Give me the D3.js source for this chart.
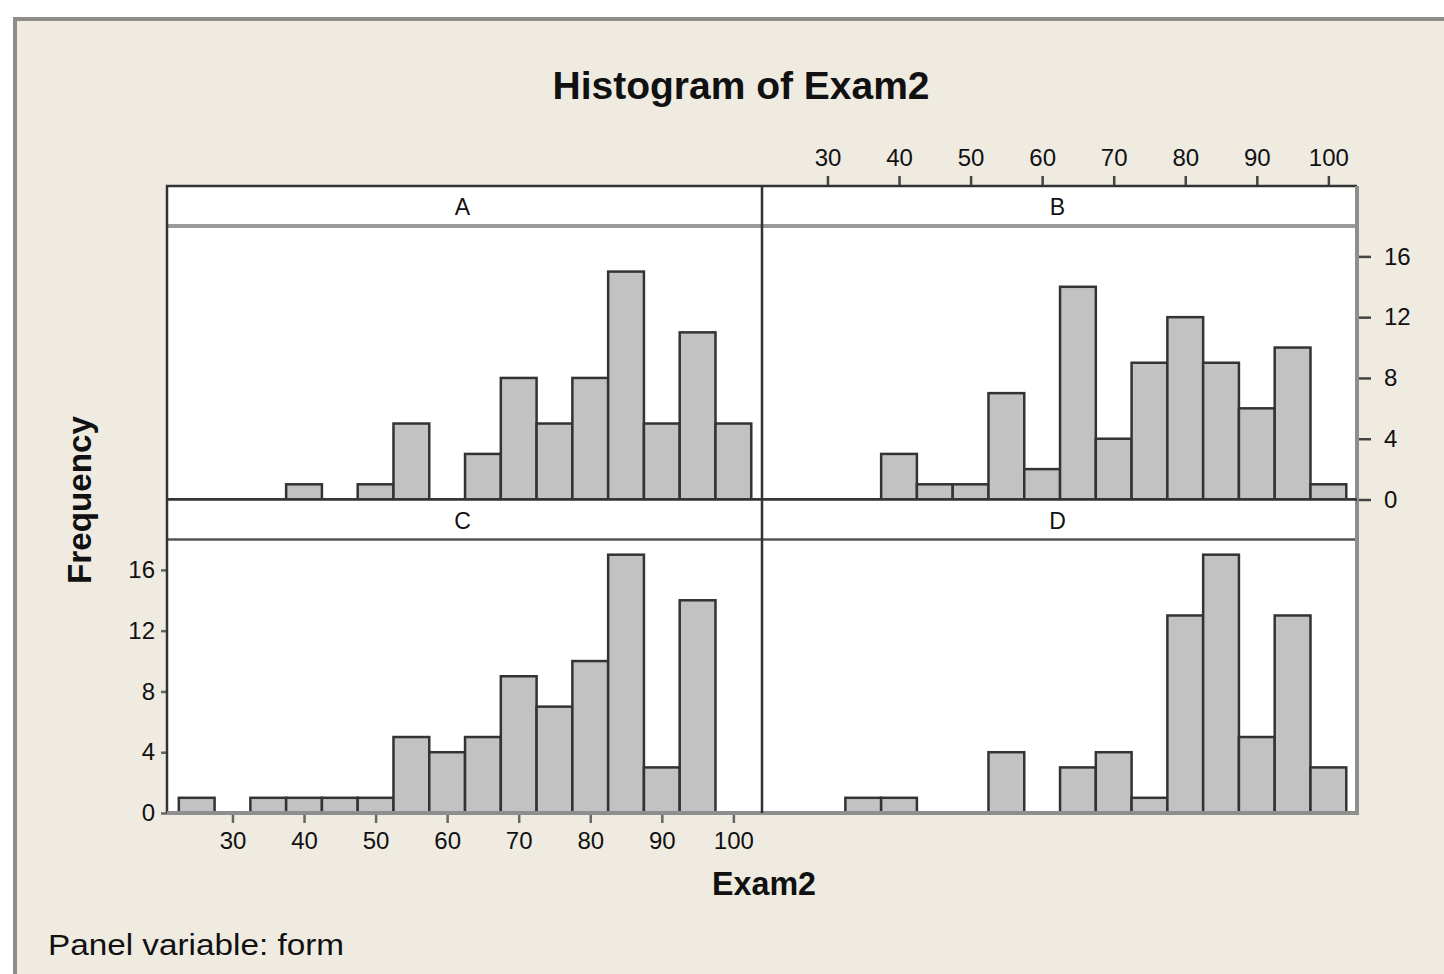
<!DOCTYPE html>
<html>
<head>
<meta charset="utf-8">
<script src="https://cdn.jsdelivr.net/npm/d3@7"></script>
<style>
  body { margin: 0; background: #ffffff; }
  svg text { font-family: "Liberation Sans", Arial, sans-serif; fill: #111; }
</style>
</head>
<body>
<svg id="chart" width="1444" height="974"></svg>
<script>
// bins are 5 wide, centred on these values
var binCenters = [25, 30, 35, 40, 45, 50, 55, 60, 65, 70, 75, 80, 85, 90, 95, 100];
var countsA = [0, 0, 0, 1, 0, 1, 5, 0, 3, 8, 5, 8, 15, 5, 11, 5];
var countsB = [0, 0, 0, 3, 1, 1, 7, 2, 14, 4, 9, 12, 9, 6, 10, 1];
var countsC = [1, 0, 1, 1, 1, 1, 5, 4, 5, 9, 7, 10, 17, 3, 14, 0];
var countsD = [0, 0, 1, 1, 0, 0, 4, 0, 3, 4, 1, 13, 17, 5, 13, 3];
var panelNames = ["A", "B", "C", "D"];
var xTicks = [30, 40, 50, 60, 70, 80, 90, 100];
var yTicks = [0, 4, 8, 12, 16];
var binWidth = 5;

var svg = d3.select("#chart");

// beige window with grey frame line top/left
svg.append("rect").attr("x", 14).attr("y", 18).attr("width", 1430).attr("height", 956)
    .attr("fill", "#efebe1");
svg.append("path").attr("d", "M15,974 V19 H1444")
    .attr("fill", "none").attr("stroke", "#8f8d88").attr("stroke-width", 4);

// grid of panels
var gridLeft = 167, gridRight = 1357, gridTop = 186, gridBottom = 813;
var panelW = (gridRight - gridLeft) / 2;
var panelH = (gridBottom - gridTop) / 2;
var stripH = 40;

var x = d3.scaleLinear().domain([20.85, 104]).range([0, panelW]);
var y = d3.scaleLinear().domain([0, 18]).range([panelH - stripH, 0]);

var allCounts = [countsA, countsB, countsC, countsD];

function styleTicks(a, col) {
    a.select(".domain").remove();
    a.selectAll("line").attr("stroke", col).attr("stroke-width", 2.5);
    a.selectAll("text").style("font-size", "24px").attr("fill", "#111");
}

allCounts.forEach(function(counts, i) {
    var col = i % 2, row = Math.floor(i / 2);
    var g = svg.append("g")
        .attr("transform", "translate(" + (gridLeft + col * panelW) + "," + (gridTop + row * panelH) + ")");

    g.append("rect").attr("width", panelW).attr("height", panelH).attr("fill", "#ffffff");

    // strip header
    g.append("text")
        .attr("x", panelW / 2 - 2).attr("y", 29)
        .attr("text-anchor", "middle")
        .style("font-size", "23px")
        .text(panelNames[i]);
    g.append("line")
        .attr("x1", 0).attr("x2", panelW).attr("y1", stripH).attr("y2", stripH)
        .attr("stroke", row == 0 ? "#9a9a9a" : "#555")
        .attr("stroke-width", row == 0 ? 4 : 2.5);

    var plot = g.append("g").attr("transform", "translate(0," + stripH + ")");

    var data = binCenters.map(function(c, j) { return { c: c, n: counts[j] }; })
        .filter(function(d) { return d.n > 0; });

    plot.selectAll("rect.bar")
        .data(data)
        .enter().append("rect")
        .attr("class", "bar")
        .attr("x", d => x(d.c - binWidth / 2))
        .attr("width", d => x(d.c + binWidth / 2) - x(d.c - binWidth / 2))
        .attr("y", d => y(d.n))
        .attr("height", d => y(0) - y(d.n))
        .attr("fill", "#c2c2c2")
        .attr("stroke", "#333")
        .attr("stroke-width", 2.5);

    // baseline
    plot.append("line")
        .attr("x1", 0).attr("x2", panelW).attr("y1", y(0)).attr("y2", y(0))
        .attr("stroke", row == 1 ? "#8a8a8a" : "#444").attr("stroke-width", 3);

    // axes: top + right on B, bottom + left on C
    if (i == 1) {
        var top = g.append("g").call(d3.axisTop(x).tickValues(xTicks).tickSize(10).tickSizeOuter(0));
        var right = plot.append("g").attr("transform", "translate(" + panelW + ",0)")
            .call(d3.axisRight(y).tickValues(yTicks).tickSize(14).tickPadding(13).tickSizeOuter(0));
        styleTicks(top, "#444");
        styleTicks(right, "#444");
        top.selectAll("text").attr("dy", "-0.3em");
    }
    if (i == 2) {
        var bottom = plot.append("g").attr("transform", "translate(0," + y(0) + ")")
            .call(d3.axisBottom(x).tickValues(xTicks).tickSize(10).tickPadding(9).tickSizeOuter(0));
        var left = plot.append("g")
            .call(d3.axisLeft(y).tickValues(yTicks).tickSize(6).tickPadding(6).tickSizeOuter(0));
        styleTicks(bottom, "#666");
        styleTicks(left, "#666");
    }
});

// panel borders
svg.append("path")
    .attr("d", "M" + gridLeft + "," + gridBottom + " V" + gridTop + " H" + gridRight)
    .attr("fill", "none").attr("stroke", "#333").attr("stroke-width", 2.5);
svg.append("path")
    .attr("d", "M" + gridRight + "," + gridTop + " V" + gridBottom + " H" + gridLeft)
    .attr("fill", "none").attr("stroke", "#8e8e8e").attr("stroke-width", 4);
svg.append("line")
    .attr("x1", gridLeft + panelW).attr("x2", gridLeft + panelW)
    .attr("y1", gridTop).attr("y2", gridBottom)
    .attr("stroke", "#333").attr("stroke-width", 2.5);
svg.append("line")
    .attr("x1", gridLeft).attr("x2", gridRight)
    .attr("y1", gridTop + panelH).attr("y2", gridTop + panelH)
    .attr("stroke", "#333").attr("stroke-width", 2.5);

// titles
svg.append("text")
    .attr("x", 741).attr("y", 99)
    .attr("text-anchor", "middle")
    .attr("textLength", 377).attr("lengthAdjust", "spacingAndGlyphs")
    .style("font-size", "38px").style("font-weight", "bold")
    .text("Histogram of Exam2");

svg.append("text")
    .attr("x", 764).attr("y", 895)
    .attr("text-anchor", "middle")
    .attr("textLength", 104).attr("lengthAdjust", "spacingAndGlyphs")
    .style("font-size", "33px").style("font-weight", "bold")
    .text("Exam2");

svg.append("text")
    .attr("transform", "translate(91,500) rotate(-90)")
    .attr("text-anchor", "middle")
    .attr("textLength", 168).attr("lengthAdjust", "spacingAndGlyphs")
    .style("font-size", "34px").style("font-weight", "bold")
    .text("Frequency");

svg.append("text")
    .attr("x", 48).attr("y", 955)
    .attr("textLength", 296).attr("lengthAdjust", "spacingAndGlyphs")
    .style("font-size", "30px")
    .text("Panel variable: form");
</script>
</body>
</html>
